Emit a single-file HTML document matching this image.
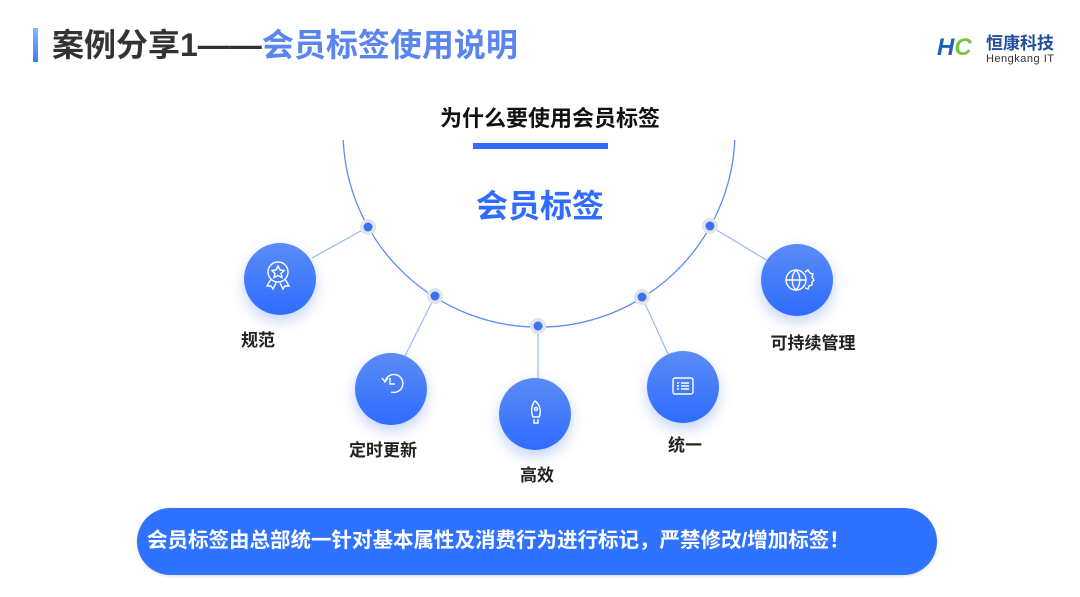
<!DOCTYPE html>
<html><head><meta charset="utf-8"><style>
body{margin:0;width:1080px;height:597px;background:#fff;position:relative;overflow:hidden;font-family:"Liberation Sans","Noto Sans CJK SC",sans-serif;}
.a{position:absolute;white-space:nowrap;}
.c{position:absolute;width:72px;height:72px;border-radius:50%;background:linear-gradient(#5a8cf5,#2f6cff);box-shadow:0 6px 14px rgba(60,110,230,0.3);}
.lb{position:absolute;font-weight:bold;font-size:17px;color:#222;transform:translateX(-50%);white-space:nowrap;}
</style></head><body>
<div class="a" style="left:33px;top:28px;width:5px;height:34px;background:linear-gradient(#8ab6ff,#3a7bef);"></div>
<div class="a" style="left:52px;top:25px;font-size:32px;font-weight:bold;color:#333;line-height:40px;">案例分享1——<span style="color:#5a85ef">会员标签使用说明</span></div>
<div class="a" style="left:937px;top:34px;font-size:24px;font-weight:bold;font-style:italic;line-height:28px;"><span style="color:#1f5fbf">H</span><span style="color:#7cc242">C</span></div>
<div class="a" style="left:986px;top:34px;font-size:17px;font-weight:bold;color:#1f4ea0;line-height:20px;">恒康科技</div>
<div class="a" style="left:986px;top:53px;font-size:11px;color:#333;line-height:12px;letter-spacing:0.5px;">Hengkang IT</div>
<div class="a" style="left:0;width:1100px;text-align:center;top:105px;font-size:22px;font-weight:bold;color:#111;line-height:28px;">为什么要使用会员标签</div>
<div class="a" style="left:473px;top:143px;width:135px;height:6px;background:#2f6cff;"></div>
<svg class="a" style="left:0;top:0" width="1080" height="597">
<path d="M343.2 140 A196 196 0 0 0 734.8 140" fill="none" stroke="#5a8cf5" stroke-width="1.3"/>
<g stroke="#9bb8f0" stroke-width="1.2">
<line x1="368" y1="227" x2="312" y2="258"/><line x1="435" y1="296" x2="405" y2="356"/>
<line x1="538" y1="326" x2="538" y2="378"/><line x1="642" y1="297" x2="668" y2="354"/>
<line x1="710" y1="226" x2="768" y2="261"/></g>
<g fill="#e2e4ea"><circle cx="368" cy="227" r="8"/><circle cx="435" cy="296" r="8"/><circle cx="538" cy="326" r="8"/><circle cx="642" cy="297" r="8"/><circle cx="710" cy="226" r="8"/></g>
<g fill="#3a72f0"><circle cx="368" cy="227" r="4.5"/><circle cx="435" cy="296" r="4.5"/><circle cx="538" cy="326" r="4.5"/><circle cx="642" cy="297" r="4.5"/><circle cx="710" cy="226" r="4.5"/></g>
</svg>
<div class="a" style="left:0;width:1080px;text-align:center;top:186px;font-size:32px;font-weight:bold;color:#2f6cff;line-height:40px;">会员标签</div>
<div class="c" style="left:244px;top:243px"></div>
<div class="c" style="left:355px;top:353px"></div>
<div class="c" style="left:499px;top:378px"></div>
<div class="c" style="left:647px;top:351px"></div>
<div class="c" style="left:761px;top:244px"></div>
<svg class="a" style="left:0;top:0" width="1080" height="597" fill="none" stroke="#fff" stroke-width="1.4">
<circle cx="278" cy="272" r="10"/><path d="M278 266 l2 4 4 .5 -3 3 1 4 -4-2 -4 2 1-4 -3-3 4-.5z"/><path d="M271 279 l-4 7 4 0 2 3 3-6 M285 279 l4 7 -4 0 -2 3 -3-6"/>
<path d="M385 382 a9 9 0 1 1 6 10"/><path d="M390 378 v6 h5"/><path d="M382 378 l3 4 3-4"/>
<path d="M535 401 c-4 4 -4 12 -2 16 h6 c2-4 2-12 -4-16z"/><circle cx="536" cy="409" r="1.5"/><path d="M534 419 v4 h4 v-4"/>
<rect x="673" y="378" width="20" height="16" rx="2"/><path d="M677 383 h2 M681 383 h8 M677 386 h2 M681 386 h8 M677 389 h2 M681 389 h8"/>
<circle cx="796" cy="280" r="10"/><path d="M786 280 h20 M796 270 c-5 5 -5 15 0 20 M796 270 c5 5 5 15 0 20"/><path d="M805 272 l3-2 2 3 3 1 -1 3 2 3 -2 2 0 3 -3 1 -1 3 -3-1"/>
</svg>
<div class="lb" style="left:258px;top:326px">规范</div>
<div class="lb" style="left:383px;top:436px">定时更新</div>
<div class="lb" style="left:537px;top:461px">高效</div>
<div class="lb" style="left:685px;top:431px">统一</div>
<div class="lb" style="left:813px;top:329px">可持续管理</div>
<div class="a" style="left:137px;top:508px;width:800px;height:67px;border-radius:34px;background:#2f72ff;box-shadow:0 1px 3px rgba(0,0,0,0.15);"></div>
<div class="a" style="left:147px;top:528px;font-size:20.5px;font-weight:bold;color:#fff;line-height:26px;">会员标签由总部统一针对基本属性及消费行为进行标记，严禁修改/增加标签！</div>
</body></html>
